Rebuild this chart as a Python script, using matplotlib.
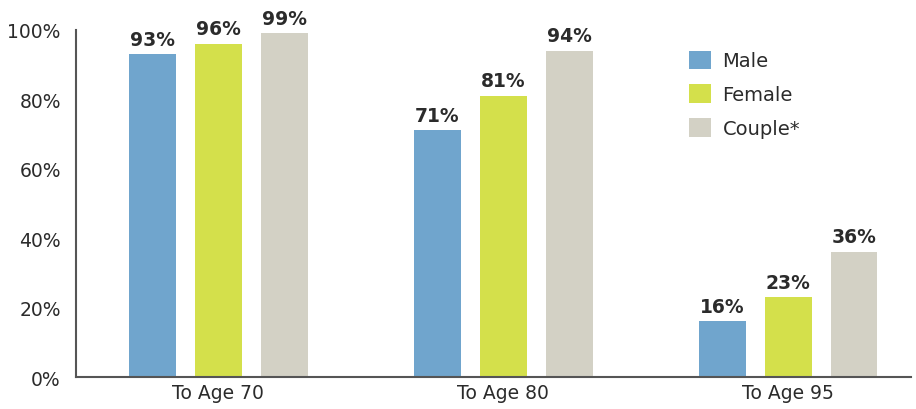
import matplotlib.pyplot as plt
import numpy as np

groups = ['To Age 70', 'To Age 80', 'To Age 95']
series = ['Male', 'Female', 'Couple*']
male = [93, 71, 16]
female = [96, 81, 23]
couple = [99, 94, 36]
colors = ['#70a5cd', '#d4e04b', '#d3d1c5']

plt.rcParams['font.family'] = ['DejaVu Sans']
txt = '#2b2b2b'

fig = plt.figure(figsize=(9.16, 4.10), dpi=100)
ax = fig.add_axes([0.083, 0.078, 0.911, 0.847])

x = np.arange(len(groups))
w = 0.165
step = 0.2316
for i, (name, vals) in enumerate(zip(series, [male, female, couple])):
    bars = ax.bar(x + (i - 1) * step, vals, w, color=colors[i], label=name)
    for b, v in zip(bars, vals):
        ax.annotate(f'{v}%', (b.get_x() + b.get_width() / 2, v),
                    xytext=(0, 4), textcoords='offset points',
                    ha='center', va='bottom', fontsize=13.5,
                    fontweight='bold', color=txt)

ax.set_xlim(-0.5, 2.43)
ax.set_ylim(0, 100)
ax.set_yticks(range(0, 101, 20))
ax.set_yticklabels([f'{t}%' for t in range(0, 101, 20)])
ax.set_xticks(x)
ax.set_xticklabels(groups)
ax.tick_params(length=0, labelsize=13.5, colors=txt, pad=11)
ax.tick_params(axis='x', pad=4)
for s in ['top', 'right']:
    ax.spines[s].set_visible(False)
for s in ['left', 'bottom']:
    ax.spines[s].set_color('#555555')
    ax.spines[s].set_linewidth(1.5)

ax.legend(loc='upper left', bbox_to_anchor=(0.742, 0.898), bbox_transform=fig.transFigure,
          frameon=False, fontsize=14, handlelength=1.1, handleheight=1.1,
          labelspacing=0.72, handletextpad=0.6, labelcolor=txt, borderpad=0)

fig.savefig('out.png', dpi=100)
